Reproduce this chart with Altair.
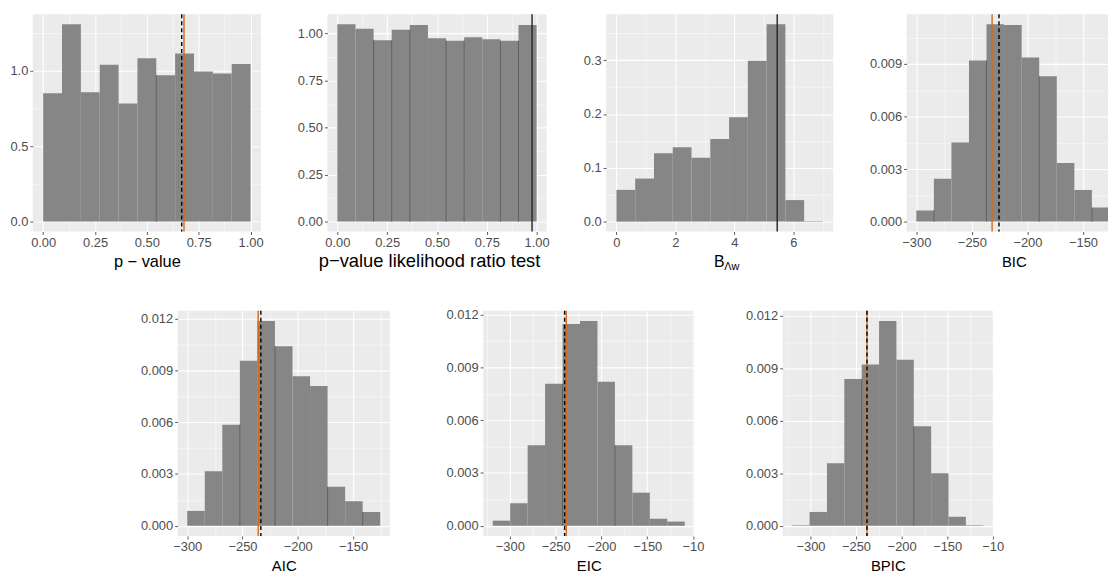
import altair as alt
import pandas as pd

FONT = "Liberation Sans"
BAR = "#868686"
SEAM = "#5E5E5E"
ORANGE = "#D2691E"
DARK = "#222222"

# ---------------- data ----------------
# p-value
pv_start, pv_width = 0.0, 1 / 11
pv_dens = [0.850, 1.307, 0.856, 1.038, 0.781, 1.081, 0.969, 1.113, 0.994, 0.981, 1.044]
pv_dashed, pv_orange = 0.668, 0.679
pv_seams = [6]
# p-value likelihood ratio test
lrt_start, lrt_width = 0.0, 1 / 11
lrt_dens = [1.050, 1.025, 0.965, 1.020, 1.045, 0.975, 0.962, 0.980, 0.970, 0.962, 1.046]
lrt_line = 0.977
lrt_seams = [2, 3, 4, 6, 7, 9, 10]
# B_Lambda w
blw_start, blw_width = 0.0, 7 / 11
blw_dens = [0.059, 0.080, 0.127, 0.138, 0.1185, 0.1535, 0.194, 0.299, 0.367, 0.040, 0.0008]
blw_line = 5.45
blw_seams = []
# BIC
bic_start, bic_width = -300.0, 15.8
bic_dens = [0.00064, 0.00245, 0.00452, 0.00920, 0.01127, 0.01122, 0.00936, 0.00829, 0.00335, 0.00181, 0.00080]
bic_orange, bic_dashed = -231.8, -225.6
bic_seams = [1, 4, 7, 10]
# AIC
aic_start, aic_width = -300.0, 15.87
aic_dens = [0.00086, 0.00316, 0.00585, 0.00955, 0.01185, 0.01039, 0.00865, 0.00809, 0.00226, 0.00142, 0.00080]
aic_orange, aic_dashed = -235.8, -233.4
aic_seams = [3, 5, 8, 10]
# EIC
eic_start, eic_width = -318.7, 19.06
eic_dens = [0.00029, 0.00128, 0.00457, 0.00807, 0.01147, 0.01163, 0.00818, 0.00457, 0.00188, 0.00040, 0.00024]
eic_orange, eic_dashed = -238.4, -240.2
eic_seams = [4, 7]
# BPIC
bpic_start, bpic_width = -320.0, 19.05
bpic_dens = [0.00003, 0.00079, 0.00357, 0.00840, 0.00922, 0.01171, 0.00950, 0.00570, 0.00300, 0.00051, 0.00003]
bpic_orange, bpic_dashed = -238.0, -238.0
bpic_seams = [4, 7]

# tick labels (major) and minor grid positions
unit_major = [0.0, 0.25, 0.5, 0.75, 1.0]
unit_minor = [0.125, 0.375, 0.625, 0.875]
pv_y_major = [0.0, 0.5, 1.0]
pv_y_minor = [0.25, 0.75, 1.25]
blw_x_major = [0.0, 2.0, 4.0, 6.0]
blw_x_minor = [1.0, 3.0, 5.0, 7.0]
blw_y_major = [0.0, 0.1, 0.2, 0.3]
blw_y_minor = [0.05, 0.15, 0.25, 0.35]
ic_y_major = [0.0, 0.003, 0.006, 0.009, 0.012]
ic_y_minor = [0.0015, 0.0045, 0.0075, 0.0105]
ic_x_major = [-300.0, -250.0, -200.0, -150.0, -100.0]
ic_x_minor = [-325.0, -275.0, -225.0, -175.0, -125.0]

TOP_H = 219
BOT_H = 227
TITLE_Y = 35


def make_axis(major, minor, fmt, dom, title=None, extent=None, x=False, special=None,
              title_x=None, title_size=15):
    lo, hi = min(dom), max(dom)
    maj = [v for v in major if lo <= v <= hi]
    mnr = [v for v in minor if lo <= v <= hi]
    test = "indexof([%s], datum.value) >= 0" % ",".join(repr(float(v)) for v in maj)
    lab = "%s ? datum.label : ''" % test
    if special is not None:
        lab = "datum.value == %s ? '%s' : (%s)" % (repr(float(special[0])), special[1], lab)
    kw = dict(
        values=sorted(maj + mnr), format=fmt, labelExpr=lab, grid=True, gridColor="white",
        gridWidth={"condition": {"test": test, "value": 1.1}, "value": 0.5},
        tickOpacity={"condition": {"test": test, "value": 1}, "value": 0},
        tickColor="#333333", tickSize=3, tickWidth=0.8, domain=False,
        labelColor="#4D4D4D", labelFont=FONT, labelFontSize=13, labelPadding=2,
        labelOverlap=False, labelFlush=False,
    )
    if x:
        kw.update(title=title, titleFont=FONT, titleFontSize=title_size, titleColor="black",
                  titleFontWeight="normal", titleY=TITLE_Y, titleBaseline="alphabetic")
        if title_x is not None:
            kw.update(titleX=title_x, titleAlign="center")
    else:
        kw.update(title=None, minExtent=extent, maxExtent=extent)
    return alt.Axis(**kw)


def panel(start, width, dens, seams, xdom, ydom, xmaj, xmin, xfmt, ymaj, ymin, yfmt,
          w, h, yext, title, lines, special=None, clip=False, title_x=None, title_size=15, extra=None):
    df = pd.DataFrame({
        "x0": [start + i * width for i in range(len(dens))],
        "x1": [start + (i + 1) * width for i in range(len(dens))],
        "dens": dens,
        "base": [0.0] * len(dens),
    })
    xenc = alt.X("x0:Q", scale=alt.Scale(domain=xdom, nice=False, zero=False),
                 axis=make_axis(xmaj, xmin, xfmt, xdom, title=title, x=True,
                                special=special, title_x=title_x, title_size=title_size))
    yenc = alt.Y("dens:Q", scale=alt.Scale(domain=ydom, nice=False, zero=False),
                 axis=make_axis(ymaj, ymin, yfmt, ydom, extent=yext))
    bars = alt.Chart(df).mark_rect(color=BAR, clip=clip).encode(x=xenc, x2="x1", y=yenc, y2="base")
    layers = [bars]
    if seams:
        sdf = pd.DataFrame({
            "x0": [start + k * width for k in seams],
            "dens": [min(dens[k - 1], dens[k]) for k in seams],
            "base": [0.0] * len(seams),
        })
        layers.append(alt.Chart(sdf).mark_rule(color=SEAM, strokeWidth=1).encode(
            x=xenc, y=yenc, y2="base"))
    for val, color, dash in lines:
        props = dict(color=color, strokeWidth=1.4)
        if dash:
            props["strokeDash"] = [4, 3]
        layers.append(alt.Chart(pd.DataFrame({"x0": [val]})).mark_rule(**props).encode(x=xenc))
    if extra is not None:
        layers.append(extra)
    return alt.layer(*layers).properties(
        width=w, height=h, view=alt.ViewBackground(fill="#EBEBEB", strokeWidth=0))


def ydom_of(d):
    m = max(d)
    return [-0.05 * m, 1.05 * m]


p1 = panel(pv_start, pv_width, pv_dens, pv_seams, [-0.05, 1.05], ydom_of(pv_dens), unit_major, unit_minor,
           ".2f", pv_y_major, pv_y_minor, ".1f", 230, TOP_H, 25, "p \u2212 value",
           [(pv_orange, ORANGE, False), (pv_dashed, "black", True)], title_size=16.5)
p2 = panel(lrt_start, lrt_width, lrt_dens, lrt_seams, [-0.05, 1.05], ydom_of(lrt_dens), unit_major, unit_minor,
           ".2f", unit_major, unit_minor, ".2f", 221, TOP_H, 44, "p\u2212value likelihood ratio test",
           [(lrt_line, DARK, False)], title_x=221 / 2 - 8, title_size=18.5)
sub = alt.Chart(pd.DataFrame({"s": [0]})).mark_text(
    text="\u039bw", font=FONT, fontSize=11, align="left", baseline="alphabetic", color="black"
).encode(x=alt.value(229 / 2 + 4.5), y=alt.value(TOP_H + TITLE_Y + 4))
p3 = panel(blw_start, blw_width, blw_dens, blw_seams, [-0.35, 7.35], ydom_of(blw_dens), blw_x_major,
           blw_x_minor, "d", blw_y_major, blw_y_minor, ".1f", 229, TOP_H, 37, "B",
           [(blw_line, DARK, False)], title_x=229 / 2 - 1, title_size=16, extra=sub)
p4 = panel(bic_start, bic_width, bic_dens, bic_seams, [-308.7, -127.5], ydom_of(bic_dens), ic_x_major,
           ic_x_minor, "d", ic_y_major, ic_y_minor, ".3f", 203, TOP_H, 54, "BIC",
           [(bic_orange, ORANGE, False), (bic_dashed, "black", True)], clip=True, title_x=108)

p5 = panel(aic_start, aic_width, aic_dens, aic_seams, [-308.7, -116.7], ydom_of(aic_dens), ic_x_major,
           ic_x_minor, "d", ic_y_major, ic_y_minor, ".3f", 214, BOT_H, 47, "AIC",
           [(aic_orange, ORANGE, False), (aic_dashed, "black", True)])
p6 = panel(eic_start, eic_width, eic_dens, eic_seams, [-329.2, -98.5], ydom_of(eic_dens), ic_x_major,
           ic_x_minor, "d", ic_y_major, ic_y_minor, ".3f", 213, BOT_H, 54, "EIC",
           [(eic_orange, ORANGE, False), (eic_dashed, "black", True)], special=(-100, "\u221210"))
p7 = panel(bpic_start, bpic_width, bpic_dens, bpic_seams, [-330.5, -99.8], ydom_of(bpic_dens), ic_x_major,
           ic_x_minor, "d", ic_y_major, ic_y_minor, ".3f", 212, BOT_H, 39, "BPIC",
           [(bpic_orange, ORANGE, False), (bpic_dashed, "black", True)], special=(-100, "\u221210"))

spacer = alt.Chart(pd.DataFrame({"s": [0]})).mark_point(opacity=0).encode(
    x=alt.value(0), y=alt.value(0)).properties(width=59, height=BOT_H)

top = alt.hconcat(p1, p2, p3, p4, spacing=20).resolve_scale(x="independent", y="independent")
bottom = alt.hconcat(spacer, p5, p6, p7, spacing=40).resolve_scale(x="independent", y="independent")

chart = alt.vconcat(top, bottom, spacing=36).resolve_scale(
    x="independent", y="independent"
).properties(
    padding={"left": 0, "right": 0, "top": 3, "bottom": 0},
    background="white",
).configure_view(strokeWidth=0)

chart.save("out.html", embed_options={"renderer": "svg", "actions": False})
